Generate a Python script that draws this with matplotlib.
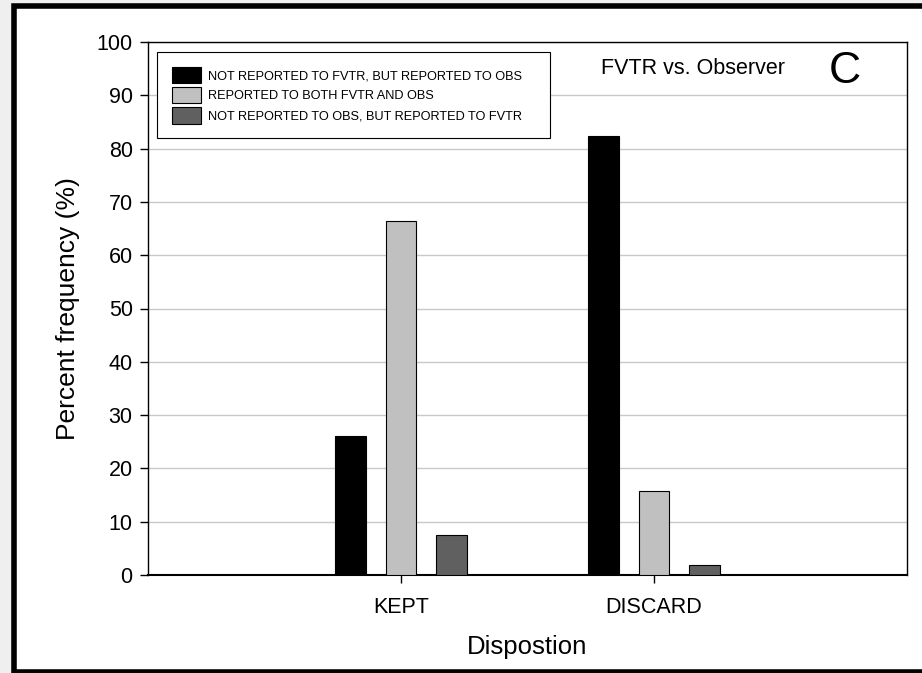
import matplotlib.pyplot as plt
from matplotlib.patches import Rectangle
import numpy as np

plt.rcParams['font.family'] = ['Liberation Sans', 'DejaVu Sans']

categories = ['KEPT', 'DISCARD']
not_fvtr = [26.0, 82.4]
both = [66.5, 15.7]
not_obs = [7.5, 1.9]
labels = ['NOT REPORTED TO FVTR, BUT REPORTED TO OBS',
          'REPORTED TO BOTH FVTR AND OBS',
          'NOT REPORTED TO OBS, BUT REPORTED TO FVTR']
colors = ['#000000', '#c0c0c0', '#606060']

fig = plt.figure(figsize=(9.22, 6.73), dpi=100, facecolor='#efefef')
# white panel with thick black frame
fig.patches.append(Rectangle((13.5/922, 1.5/673), 1.05, 1 - 7/673,
                             transform=fig.transFigure, facecolor='white',
                             edgecolor='black', linewidth=4, zorder=-5))

ax = fig.add_axes([148/922, 1 - 575/673, 759/922, 533/673])
ax.set_zorder(2)
x = np.arange(len(categories))
w = 0.122
for i, (vals, lab, c) in enumerate(zip([not_fvtr, both, not_obs], labels, colors)):
    ax.bar(x + (i - 1) * 0.2, vals, width=w, color=c, edgecolor='black',
           linewidth=0.8, label=lab, zorder=3)

ax.set_xlim(-1, 2)
ax.set_ylim(0, 100)
ax.set_yticks(range(0, 101, 10))
ax.set_xticks(x)
ax.set_xticklabels(categories)
ax.tick_params(labelsize=15.5, length=6, width=1, direction='out')
ax.tick_params(axis='y', pad=5)
ax.tick_params(axis='x', pad=10)
ax.yaxis.grid(True, color='#c8c8c8', linewidth=1, zorder=0)
ax.set_axisbelow(True)
for s in ax.spines.values():
    s.set_linewidth(1)
ax.spines['bottom'].set_linewidth(1.5)
ax.set_ylabel('Percent frequency (%)', fontsize=19, labelpad=12)
ax.set_xlabel('Dispostion', fontsize=18.5, labelpad=12)

leg = ax.legend(loc='upper left', bbox_to_anchor=(0.012, 0.5, 0.518, 0.481),
                mode='expand', fontsize=9.2,
                frameon=True, fancybox=False, edgecolor='black', framealpha=1,
                handlelength=2.27, handleheight=1.6, handletextpad=0.6,
                labelspacing=0.3, borderpad=1.15, borderaxespad=0)
leg.get_frame().set_linewidth(0.8)

ax.text(0.79, 95, 'FVTR vs. Observer', fontsize=15.5, va='center', ha='left')
ax.text(1.69, 94.5, 'C', fontsize=32, va='center', ha='left')

fig.savefig('out.png', dpi=100, facecolor=fig.get_facecolor())
